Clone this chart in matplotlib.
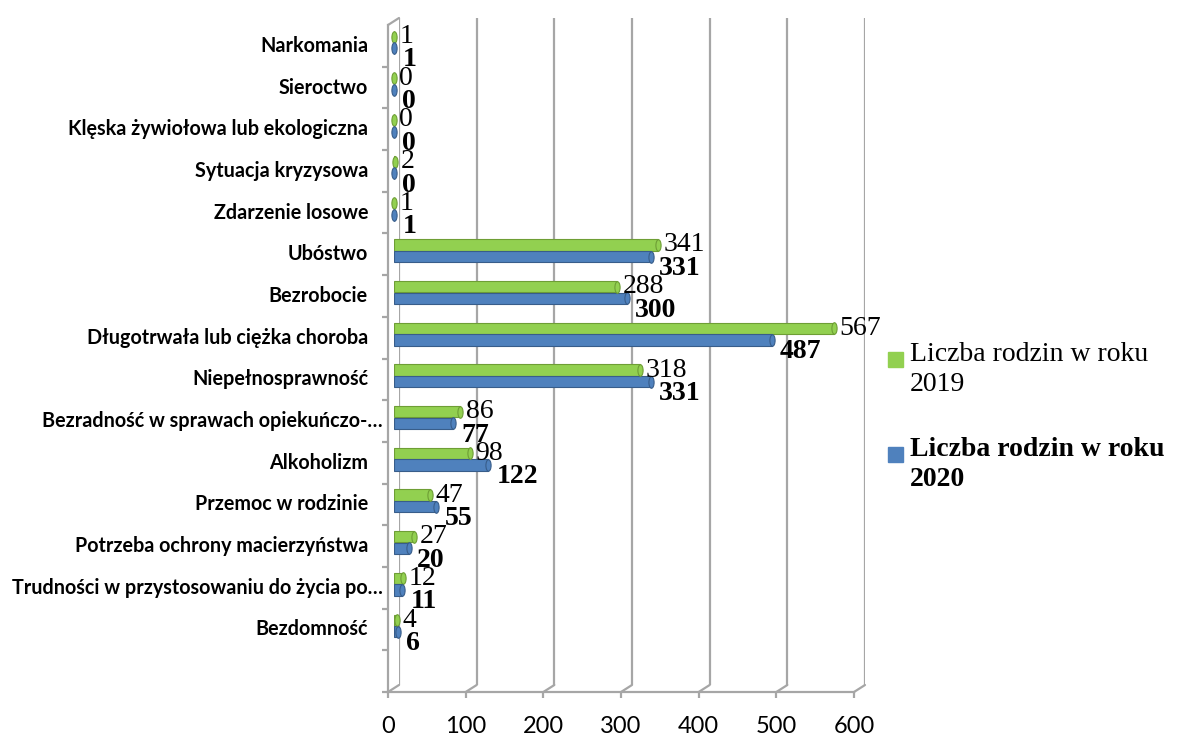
import numpy as np
import matplotlib
matplotlib.use('Agg')
import matplotlib.pyplot as plt
from matplotlib.patches import Rectangle, ConnectionPatch
from matplotlib.markers import MarkerStyle
from matplotlib.transforms import Affine2D

# dane (od góry do dołu)
kategorie = ["Narkomania", "Sieroctwo", "Klęska żywiołowa lub ekologiczna",
             "Sytuacja kryzysowa", "Zdarzenie losowe", "Ubóstwo", "Bezrobocie",
             "Długotrwała lub ciężka choroba", "Niepełnosprawność",
             "Bezradność w sprawach opiekuńczo-…", "Alkoholizm",
             "Przemoc w rodzinie", "Potrzeba ochrony macierzyństwa",
             "Trudności w przystosowaniu do życia po…", "Bezdomność"]
rok_2019 = [1, 0, 0, 2, 1, 341, 288, 567, 318, 86, 98, 47, 27, 12, 4]
rok_2020 = [1, 0, 0, 0, 1, 331, 300, 487, 331, 77, 122, 55, 20, 11, 6]
os_x = [0, 100, 200, 300, 400, 500, 600]
legenda = ["Liczba rodzin w roku\n2019", "Liczba rodzin w roku\n2020"]

ZIELONY = '#92D050'
ZIELONY_C = '#6E9E35'
NIEBIESKI = '#4F81BD'
NIEBIESKI_C = '#385D8A'
SIATKA = '#A6A6A6'
SERIF = 'Liberation Serif'
SANS = 'Lato'

W, H = 1182, 736
fig = plt.figure(figsize=(W / 100, H / 100), dpi=100)


def px_box(x0, y0, x1, y1):
    # prostokat w pikselach (od lewego gornego rogu) -> ulamki figury
    return [x0 / W, 1 - y1 / H, (x1 - x0) / W, (y1 - y0) / H]


n = len(kategorie)
ylim = (-1.5, n - 0.5)
xlim = (0, 600)
poz = np.arange(n)[::-1]

back = fig.add_axes(px_box(399, 18, 865, 685), zorder=0)
front = fig.add_axes(px_box(388, 25, 854, 692), zorder=1)
mid = fig.add_axes(px_box(393.5, 21.5, 859.5, 688.5), zorder=2)
for a in (back, front, mid):
    a.set_xlim(xlim)
    a.set_ylim(ylim)
    a.patch.set_alpha(0)

# tylna sciana z siatka
back.axis('off')
for v in os_x:
    back.axvline(v, color=SIATKA, lw=1.6)

# przednie osie
for s in ('top', 'right'):
    front.spines[s].set_visible(False)
for s in ('left', 'bottom'):
    front.spines[s].set_color(SIATKA)
    front.spines[s].set_linewidth(1.6)
front.set_xticks(os_x)
front.set_xticklabels([str(v) for v in os_x], fontsize=17, fontfamily=SANS)
front.tick_params(axis='x', direction='out', length=4, width=1.6, color=SIATKA, pad=13)
front.set_yticks(np.arange(n + 1) - 1.5)
front.set_yticklabels([])
front.tick_params(axis='y', which='major', direction='out', length=4, width=1.6, color=SIATKA)

# etykiety kategorii (skrocone Excel przesuwa blizej osi)
for y, k in zip(poz, kategorie):
    dx = -3.6 if k.endswith('…') else -14.4
    front.annotate(k, (0, y), xytext=(dx, 0), textcoords='offset points',
                   ha='right', va='center', fontsize=14.2, fontweight='bold',
                   fontfamily=SANS, annotation_clip=False)

# ukosne krawedzie 3D
for v in os_x:
    fig.add_artist(ConnectionPatch((v, ylim[0]), (v, ylim[0]), coordsA=front.transData,
                                   coordsB=back.transData, color=SIATKA, lw=1.6))
fig.add_artist(ConnectionPatch((0, ylim[1]), (0, ylim[1]), coordsA=front.transData,
                               coordsB=back.transData, color=SIATKA, lw=1.6))

# slupki
h = 0.27
mid.axis('off')
kapsel = MarkerStyle('o', transform=Affine2D().scale(0.45, 1))
mid.barh(poz + 0.14, rok_2019, height=h, color=ZIELONY, edgecolor=ZIELONY_C, lw=0.8)
mid.barh(poz - 0.14, rok_2020, height=h, color=NIEBIESKI, edgecolor=NIEBIESKI_C, lw=0.8)
mid.plot(rok_2019, poz + 0.14, ls='none', marker=kapsel, ms=8.3, mfc=ZIELONY,
         mec=ZIELONY_C, mew=0.8, clip_on=False)
mid.plot(rok_2020, poz - 0.14, ls='none', marker=kapsel, ms=8.3, mfc=NIEBIESKI,
         mec=NIEBIESKI_C, mew=0.8, clip_on=False)
for y, v in zip(poz, rok_2019):
    mid.annotate(str(v), (v, y + 0.14), xytext=(4, 0), textcoords='offset points',
                 ha='left', va='center', fontsize=20, fontfamily=SERIF)
for y, v in zip(poz, rok_2020):
    mid.annotate(str(v), (v, y - 0.14), xytext=(6, -8.5), textcoords='offset points',
                 ha='left', va='center', fontsize=20, fontfamily=SERIF, fontweight='bold')

# legenda
for i, (kol, tekst) in enumerate(zip([ZIELONY, NIEBIESKI], legenda)):
    y0 = 352 + i * 95
    fig.add_artist(Rectangle((888 / W, 1 - (y0 + 15) / H), 15 / W, 15 / H,
                             transform=fig.transFigure, color=kol))
    fig.text(910 / W, 1 - (y0 - 10) / H, tekst, va='top', ha='left', fontsize=20,
             fontfamily=SERIF, linespacing=1.25,
             fontweight='bold' if i == 1 else 'normal')

fig.savefig('out.png', dpi=100)
